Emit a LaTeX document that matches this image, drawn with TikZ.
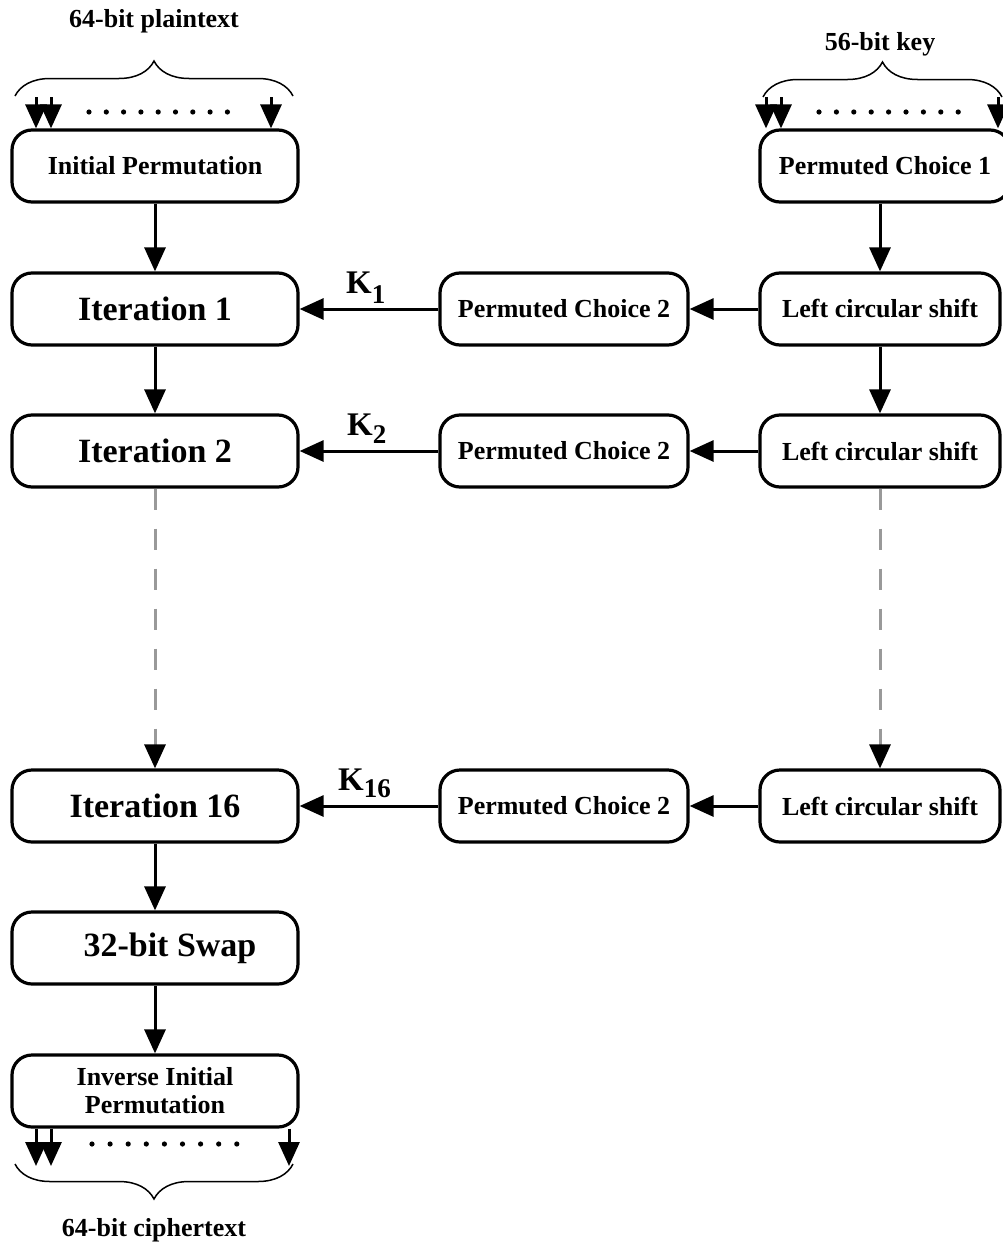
\documentclass[tikz,border=0pt]{standalone}
\usepackage{fontspec}
\setmainfont{Liberation Serif}
\usetikzlibrary{arrows.meta,decorations.pathreplacing}
\begin{document}
\begin{tikzpicture}[x=1pt,y=-1pt,
  box/.style={draw, line width=3.2pt, rounded corners=20pt, minimum height=72pt,
    inner sep=0pt, align=center, fill=white, font=\fontsize{26}{28}\selectfont\bfseries},
  lbox/.style={box, minimum width=286pt},
  bigtxt/.style={font=\fontsize{34}{36}\selectfont\bfseries},
  tip/.style={-{Triangle[length=24pt,width=21pt]}},
  arr/.style={line width=3pt, tip},
  darr/.style={line width=3pt, draw=black!40, dash pattern=on 21pt off 19pt,
    -{Triangle[length=24pt,width=21pt,color=black]}},
  lab/.style={inner sep=0pt, font=\fontsize{26}{28}\selectfont\bfseries},
  klab/.style={inner sep=0pt, anchor=base west, font=\fontsize{33}{33}\selectfont\bfseries},
  brc/.style={line width=1.5pt, decorate, decoration={brace, amplitude=35pt}},
  dotfill/.style={fill=black}
]
\clip (0,0) rectangle (1003,1247);

% left column: data path
\node[lbox] (ip)   at (155,166)  {Initial Permutation};
\node[lbox, bigtxt] (it1)  at (155,309)  {Iteration 1};
\node[lbox, bigtxt] (it2)  at (155,451)  {Iteration 2};
\node[lbox, bigtxt] (it16) at (155,806)  {Iteration 16};
\node[lbox, bigtxt] (swap) at (155,948)  {\hspace*{30pt}32-bit Swap};
\node[lbox] (iip)  at (155,1091) {Inverse Initial\\Permutation};

% right column: key schedule
\node[box, minimum width=250pt] (pc1)  at (885,166) {Permuted Choice 1};
\node[box, minimum width=240pt] (lcs1) at (880,309) {Left circular shift};
\node[box, minimum width=240pt] (lcs2) at (880,451) {Left circular shift};
\node[box, minimum width=240pt] (lcs16) at (880,806) {Left circular shift};

% middle column: subkey selection
\node[box, minimum width=248pt] (pc2a) at (564,309) {Permuted Choice 2};
\node[box, minimum width=248pt] (pc2b) at (564,451) {Permuted Choice 2};
\node[box, minimum width=248pt] (pc2c) at (564,806) {Permuted Choice 2};

% vertical flow, left
\draw[arr] (ip) -- (it1);
\draw[arr] (it1) -- (it2);
\draw[darr] (it2) -- (it16);
\draw[arr] (it16) -- (swap);
\draw[arr] (swap) -- (iip);

% vertical flow, right
\draw[arr] (pc1.south -| lcs1.north) -- (lcs1.north);
\draw[arr] (lcs1) -- (lcs2);
\draw[darr] (lcs2) -- (lcs16);

% horizontal flow
\draw[arr] (lcs1) -- (pc2a);
\draw[arr] (lcs2) -- (pc2b);
\draw[arr] (lcs16) -- (pc2c);
\draw[arr] (pc2a) -- (it1);
\draw[arr] (pc2b) -- (it2);
\draw[arr] (pc2c) -- (it16);

% subkey labels
\node[klab] (k1)  at (346,293) {K\raisebox{-10pt}{\fontsize{27}{27}\selectfont 1}};
\node[klab] (k2)  at (347,435) {K\raisebox{-8pt}{\fontsize{27}{27}\selectfont 2}};
\node[klab] (k16) at (338,790) {K\raisebox{-7pt}{\fontsize{27}{27}\selectfont 16}};

% plaintext input
\node[lab] (pt) at (154,21) {64-bit plaintext};
\draw[brc] (15,96) -- (293,96);
\coordinate (pa) at (36,97);
\coordinate (pb) at (51,97);
\coordinate (pc) at (271,97);
\draw[arr] (pa) -- (pa |- ip.north);
\draw[arr] (pb) -- (pb |- ip.north);
\draw[arr] (pc) -- (pc |- ip.north);
\foreach \i in {0,...,8} \fill[dotfill] (89+17.3*\i,112) circle (2.6pt);

% key input
\node[lab] (kk) at (880,44) {56-bit key};
\draw[brc] (763,97) -- (1002,97);
\coordinate (ka) at (766,97);
\coordinate (kb) at (781,97);
\coordinate (kc) at (998,97);
\draw[arr] (ka) -- (ka |- pc1.north);
\draw[arr] (kb) -- (kb |- pc1.north);
\draw[arr] (kc) -- (kc |- pc1.north);
\foreach \i in {0,...,8} \fill[dotfill] (819+17.4*\i,112) circle (2.6pt);

% ciphertext output
\coordinate (ca) at (36,1166);
\coordinate (cb) at (51,1166);
\coordinate (cc) at (289,1166);
\draw[arr] (ca |- iip.south) -- (ca);
\draw[arr] (cb |- iip.south) -- (cb);
\draw[arr] (cc |- iip.south) -- (cc);
\foreach \i in {0,...,8} \fill[dotfill] (92+18.1*\i,1144) circle (2.6pt);
\draw[brc] (293,1164) -- (15,1164);
\node[lab] (ct) at (154,1230) {64-bit ciphertext};
\end{tikzpicture}
\end{document}
